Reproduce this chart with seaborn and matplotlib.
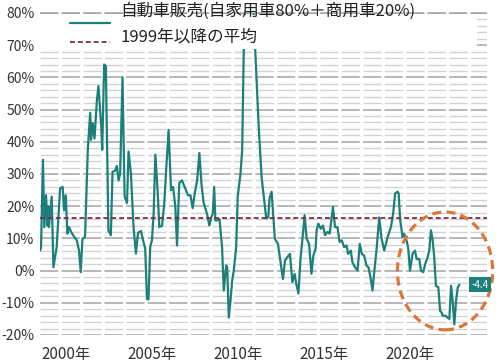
import numpy as np
import matplotlib
matplotlib.use("Agg")
import matplotlib.pyplot as plt
import matplotlib.transforms as mtransforms
from matplotlib.patches import Ellipse, Rectangle
from matplotlib.lines import Line2D
import seaborn as sns

# ---- data (decimal year, % y/y) ----
dates = [
    1999.00, 1999.06, 1999.17, 1999.25, 1999.35, 1999.43, 1999.48, 1999.52, 1999.68, 1999.78,
    1999.97, 2000.17, 2000.32, 2000.40, 2000.50, 2000.59, 2000.69, 2000.81, 2001.00, 2001.14,
    2001.27, 2001.37, 2001.47, 2001.62, 2001.78, 2001.92, 2001.97, 2002.07, 2002.17, 2002.31,
    2002.40, 2002.56, 2002.62, 2002.73, 2002.83, 2002.98, 2003.12, 2003.22, 2003.37, 2003.47,
    2003.57, 2003.66, 2003.80, 2003.92, 2004.06, 2004.15, 2004.29, 2004.44, 2004.58, 2004.70,
    2004.87, 2005.02, 2005.12, 2005.22, 2005.31, 2005.41, 2005.51, 2005.61, 2005.71, 2005.84,
    2005.94, 2006.10, 2006.23, 2006.35, 2006.48, 2006.62, 2006.74, 2006.87, 2006.97, 2007.10,
    2007.26, 2007.41, 2007.61, 2007.75, 2007.88, 2008.00, 2008.14, 2008.27, 2008.39, 2008.52,
    2008.72, 2008.85, 2008.97, 2009.05, 2009.13, 2009.20, 2009.30, 2009.44, 2009.59, 2009.69,
    2009.83, 2009.89, 2009.98, 2010.08, 2010.18, 2010.27, 2010.41, 2010.50, 2010.66, 2010.76,
    2010.85, 2010.95, 2011.20, 2011.42, 2011.73, 2011.89, 2012.16, 2012.28, 2012.35, 2012.47,
    2012.66, 2012.84, 2012.95, 2013.13, 2013.25, 2013.39, 2013.54, 2013.68, 2013.81, 2013.91,
    2014.03, 2014.16, 2014.26, 2014.39, 2014.51, 2014.65, 2014.79, 2014.90, 2015.03, 2015.09,
    2015.19, 2015.33, 2015.46, 2015.58, 2015.72, 2015.85, 2016.04, 2016.16, 2016.30, 2016.43,
    2016.55, 2016.69, 2016.83, 2016.92, 2017.08, 2017.17, 2017.33, 2017.47, 2017.60, 2017.72,
    2017.85, 2017.99, 2018.11, 2018.24, 2018.34, 2018.43, 2018.57, 2018.73, 2018.87, 2019.02,
    2019.22, 2019.41, 2019.54, 2019.66, 2019.80, 2019.86, 2019.95, 2020.09, 2020.18, 2020.32,
    2020.42, 2020.52, 2020.67, 2020.81, 2020.91, 2021.06, 2021.16, 2021.29, 2021.41, 2021.55,
    2021.64, 2021.74, 2021.84, 2021.93, 2022.03, 2022.17, 2022.27, 2022.36, 2022.42, 2022.58,
    2022.71, 2022.81, 2022.91, 2023.01, 2023.10, 2023.20, 2023.30, 2023.39,
]
sales = [
    6.2, 7.0, 34.4, 13.5, 23.4, 14.0, 20.0, 13.5, 23.0, 1.0,
    7.3, 25.6, 26.0, 18.7, 23.4, 11.5, 13.5, 12.0, 10.4, 9.4,
    6.2, -0.5, 9.9, 10.4, 37.5, 49.0, 40.6, 45.8, 41.0, 53.0,
    57.3, 45.0, 37.5, 64.0, 63.5, 12.5, 11.0, 30.7, 31.0, 32.5,
    28.0, 30.0, 60.0, 23.0, 21.0, 37.0, 30.0, 13.5, 5.3, 11.7,
    12.3, 8.9, 6.8, -8.8, -9.0, 7.3, 9.4, 17.7, 36.0, 25.0,
    13.5, 14.0, 21.0, 32.3, 43.7, 25.0, 26.0, 20.0, 7.8, 27.2,
    28.0, 26.0, 23.4, 23.4, 19.4, 24.0, 28.0, 36.5, 27.0, 21.0,
    17.5, 14.0, 16.6, 17.7, 26.0, 15.6, 15.6, 16.0, 7.3, -6.2,
    1.6, 1.0, -14.6, -9.4, -3.1, 0.0, 7.3, 23.0, 30.0, 37.5,
    68.0, 85.0, 92.0, 80.0, 43.7, 29.0, 16.2, 16.7, 22.4, 24.5,
    9.9, 8.3, 4.2, -2.6, 3.1, 4.2, 5.2, -3.6, -1.0, -4.2,
    -7.1, 4.2, 9.4, 17.2, 9.9, 8.3, -1.0, 4.7, 6.8, 12.5,
    14.6, 13.0, 14.0, 11.0, 12.0, 11.5, 19.8, 13.5, 13.5, 8.9,
    9.4, 7.3, 7.8, 5.2, 6.2, 2.6, 1.0, 0.0, 8.3, 5.2,
    4.7, 1.6, 1.0, -2.6, -6.2, -1.0, 6.2, 16.5, 9.9, 6.2,
    10.4, 13.5, 17.7, 24.0, 24.5, 24.0, 15.6, 10.4, 11.5, 9.4,
    6.8, 0.0, 5.2, 6.2, 3.6, 3.6, 0.0, -0.5, 2.1, 4.2,
    6.2, 12.5, 9.4, 4.2, -4.7, -5.2, -12.5, -13.0, -14.0, -14.0,
    -14.6, -15.0, -4.7, -10.0, -16.7, -9.4, -5.2, -4.4,
]
average_since_1999 = 16.2
tick_years = [2000, 2005, 2010, 2015, 2020]
y_ticks = [-20, -10, 0, 10, 20, 30, 40, 50, 60, 70, 80]
series_label = "自動車販売(自家用車80%＋商用車20%)"
avg_label = "1999年以降の平均"

# ---- style ----
TEAL = "#1b7f7b"
MAROON = "#7a2d45"
ORANGE = "#d9783b"
sns.set_style("white")
plt.rcParams["font.family"] = ["Noto Sans CJK JP", "DejaVu Sans"]
plt.rcParams["lines.scale_dashes"] = False

fig = plt.figure(figsize=(5.0, 3.64), dpi=100)
ax = fig.add_axes([0.08, 0.0797, 0.894, 0.8846])

sns.lineplot(x=dates, y=sales, ax=ax, color=TEAL, linewidth=1.6, zorder=2)
ax.axhline(average_since_1999, color=MAROON, linewidth=1.3,
           linestyle=(0, (3.5, 2.2)), zorder=2.5)

ax.set_xlim(1999, 2025)
ax.set_ylim(-20, 80)

# gridlines
ax.set_yticks(y_ticks)
ax.set_yticks(np.arange(-20, 81, 2), minor=True)
ax.set_yticklabels([f"{v}%" for v in y_ticks])
ax.set_xticks([y + 0.5 for y in tick_years])
ax.set_xticklabels([f"{y}年" for y in tick_years])
ax.set_axisbelow(True)
dash = (0, (13.2, 2.3))
ax.grid(which="minor", axis="y", color="#d2d2d2", linestyle=dash, linewidth=1.0)
ax.grid(which="major", axis="y", color="#a3a3a3", linestyle=dash, linewidth=1.1)
ax.grid(which="both", axis="x", visible=False)
for s in ax.spines.values():
    s.set_visible(False)
ax.tick_params(axis="y", which="both", length=0, pad=4, labelsize=10, labelcolor="#333333")
ax.tick_params(axis="x", which="both", length=0, pad=8, labelsize=11, labelcolor="#333333")
ax.set_xlabel("")
ax.set_ylabel("")

# white legend background covering the top of the plot
blend = mtransforms.blended_transform_factory(ax.transAxes, ax.transData)
ax.add_patch(Rectangle((0, 68.9), 0.978, 10.4, transform=blend,
                       facecolor="white", edgecolor="none", zorder=3))
ax.axhline(80, color="#a3a3a3", linestyle=dash, linewidth=1.1, zorder=3.5, clip_on=False)

# legend (manual)
fig.add_artist(Line2D([0.14, 0.22], [1 - 23 / 364] * 2, color=TEAL, linewidth=1.6, zorder=6))
fig.add_artist(Line2D([0.14, 0.22], [1 - 42 / 364] * 2, color=MAROON, linewidth=1.3,
                      linestyle=(0, (3.5, 2.2)), zorder=6))
fig.text(0.24, 1 - 11 / 364, series_label, fontsize=12, color="#222222",
         va="center", ha="left", zorder=6)
fig.text(0.24, 1 - 36.5 / 364, avg_label, fontsize=12, color="#222222",
         va="center", ha="left", zorder=6)

# highlight ellipse
ax.add_patch(Ellipse((2022.56, -0.1), 5.54, 36.6, fill=False, edgecolor=ORANGE,
                     linewidth=2.3, linestyle=(0, (6.5, 3.8)), zorder=4, clip_on=False))

# last value label
ax.text(0.984, sales[-1], f"{sales[-1]:.1f}", transform=blend, ha="center", va="center",
        fontsize=7, color="white", zorder=5, clip_on=False,
        bbox=dict(boxstyle="square,pad=0.25", facecolor=TEAL, edgecolor="none"))

fig.savefig("out.png", dpi=100)
